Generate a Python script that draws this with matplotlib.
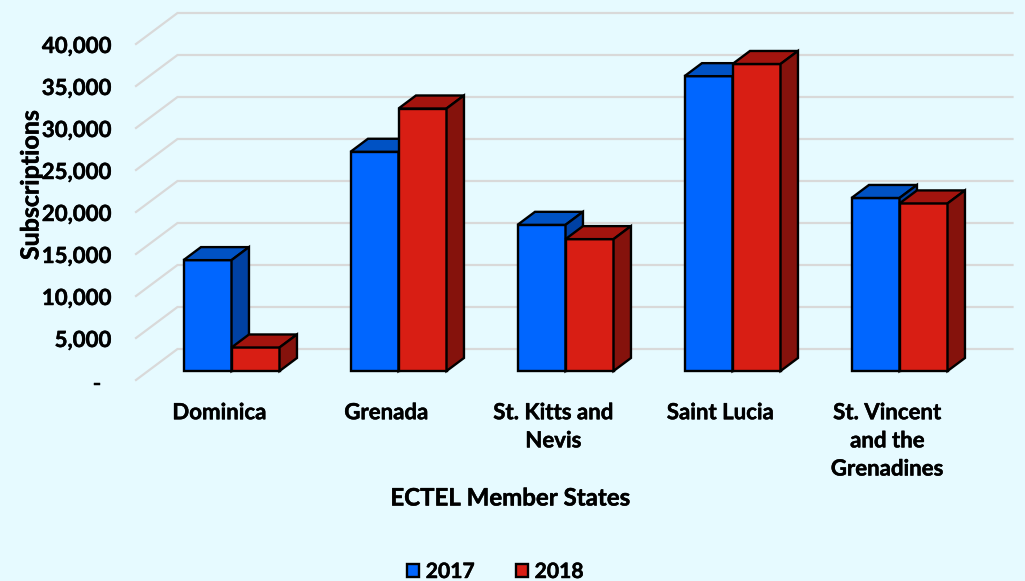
import matplotlib
matplotlib.use("Agg")
import matplotlib.pyplot as plt
import matplotlib.patheffects as pe
from matplotlib.patches import Patch
from matplotlib.transforms import ScaledTranslation

#Data
states = ["Dominica", "Grenada", "St. Kitts and\nNevis", "Saint Lucia", "St. Vincent\nand the\nGrenadines"]
subs_2017 = [13200, 26100, 17400, 35100, 20600]
subs_2018 = [2800, 31250, 15700, 36550, 19950]
y_ticks = [0, 5000, 10000, 15000, 20000, 25000, 30000, 35000, 40000]
y_tick_labels = ["-", "5,000", "10,000", "15,000", "20,000", "25,000", "30,000", "35,000", "40,000"]

BG = "#E6FAFF"
BLUE = ("#0066FF", "#0052C4", "#0041A3")
RED = ("#D81E14", "#A3140E", "#85120C")
GRID = "#D9D9D9"
#Lato bold is a bit lighter than the original face, so thicken it slightly
BOLDER = [pe.withStroke(linewidth=0.35, foreground="black")]

plt.rcParams["font.family"] = ["Lato", "DejaVu Sans"]
plt.rcParams["font.weight"] = "bold"

fig = plt.figure(figsize=(10.25, 5.81), dpi=100, facecolor=BG)
#Front plane of the fake 3D box, in figure fractions
ax = fig.add_axes([136 / 1025, (581 - 380) / 581, 835 / 1025, 336 / 581])
ax.set_facecolor("none")
ax.set_xlim(-0.5, 4.5)
ax.set_ylim(0, 40000)

#Depth of the box in data units (41.5 px across, 31 px up)
DEPTH_X = 41.5 / 167
DEPTH_Y = 31 / 42 * 5000
BAR_W = 48 / 167


def project(x, y, d):
    return x + d * DEPTH_X, y + d * DEPTH_Y


def draw_box(x0, x1, h, colors, zorder):
    d0, d1 = 0.29, 0.71
    front, top, side = colors
    a = project(x0, 0, d0)
    b = project(x1, 0, d0)
    c = project(x1, h, d0)
    e = project(x0, h, d0)
    f = project(x0, h, d1)
    g = project(x1, h, d1)
    k = project(x1, 0, d1)
    for pts, col in [([a, b, c, e], front), ([e, c, g, f], top), ([b, k, g, c], side)]:
        ax.fill([p[0] for p in pts], [p[1] for p in pts], facecolor=col, edgecolor="black",
                linewidth=1.7, joinstyle="miter", zorder=zorder, clip_on=False)


#Gridlines run along the floor edge and then the back wall
for val in y_ticks:
    p0 = project(-0.5, val, 0)
    p1 = project(-0.5, val, 1)
    p2 = project(4.5, val, 1)
    ax.plot([p0[0], p1[0], p2[0]], [p0[1], p1[1], p2[1]], color=GRID, linewidth=1.6,
            solid_joinstyle="miter", zorder=1, clip_on=False)

for i in range(len(states)):
    draw_box(i - BAR_W, i, subs_2017[i], BLUE, 3)
    draw_box(i, i + BAR_W, subs_2018[i], RED, 3)

for s in ax.spines.values():
    s.set_visible(False)

ax.set_yticks(y_ticks)
ax.set_yticklabels(y_tick_labels, fontsize=16, fontweight="bold", path_effects=BOLDER)
ax.tick_params(axis="y", length=0, pad=18)
shift = ScaledTranslation(0, -0.5 / 100, fig.dpi_scale_trans)
#The dash sits further left and lower, as in an accounting number format
dash_shift = ScaledTranslation(-10 / 100, -2.5 / 100, fig.dpi_scale_trans)
for j, lab in enumerate(ax.get_yticklabels()):
    lab.set_transform(lab.get_transform() + (dash_shift if j == 0 else shift))

ax.set_xticks(range(len(states)))
ax.set_xticklabels(states, fontsize=16, fontweight="bold", linespacing=1.42, path_effects=BOLDER)
ax.tick_params(axis="x", length=0, pad=16)

fig.text(31 / 1025, 1 - 185 / 581, "Subscriptions", rotation=90, ha="center", va="center",
         fontsize=18, fontweight="bold", path_effects=BOLDER)
fig.text(510 / 1025, 1 - 498 / 581, "ECTEL Member States", ha="center", va="center",
         fontsize=17.3, fontweight="bold", path_effects=BOLDER)

handles = [Patch(facecolor=BLUE[0], edgecolor="black", linewidth=1.7, label="2017"),
           Patch(facecolor=RED[0], edgecolor="black", linewidth=1.7, label="2018")]
leg = fig.legend(handles=handles, loc="center", bbox_to_anchor=(495.5 / 1025, 1 - 572 / 581), ncol=2, frameon=False,
                 fontsize=15.2, handlelength=0.58, handleheight=0.58, handletextpad=0.3, columnspacing=1.95,
                 borderpad=0, borderaxespad=0)
for t in leg.get_texts():
    t.set_path_effects(BOLDER)

fig.savefig("out.png", dpi=100, facecolor=BG)
